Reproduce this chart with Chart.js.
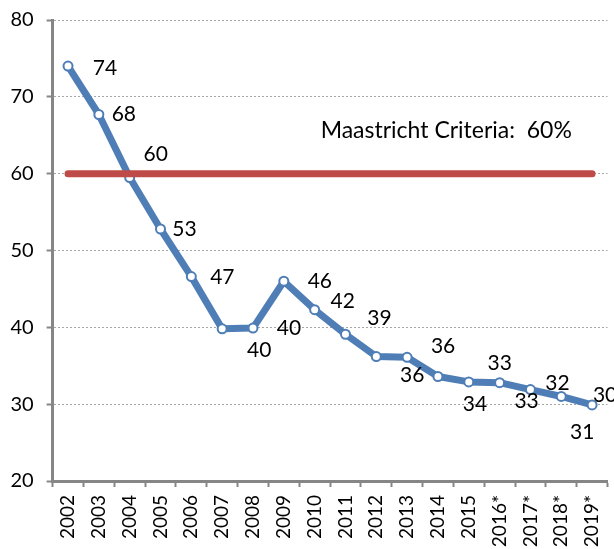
<!DOCTYPE html>
<html>
<head>
<meta charset="utf-8">
<script src="https://cdn.jsdelivr.net/npm/chart.js@4/dist/chart.umd.min.js"></script>
<style>
  html, body { margin: 0; padding: 0; background: #fff; }
  #wrap { width: 614px; height: 549px; }
</style>
</head>
<body>
<div id="wrap"><canvas id="debtChart" width="614" height="549"></canvas></div>
<script>
const years = ['2002', '2003', '2004', '2005', '2006', '2007', '2008', '2009', '2010',
  '2011', '2012', '2013', '2014', '2015', '2016*', '2017*', '2018*', '2019*'];
const debtRatio = [74.0, 67.7, 59.5, 52.8, 46.6, 39.8, 39.9, 46.0, 42.3,
  39.1, 36.2, 36.1, 33.6, 32.9, 32.8, 31.9, 31.0, 29.9];
const criteria = years.map(() => 60);
const yTicks = [20, 30, 40, 50, 60, 70, 80];
const criteriaText = 'Maastricht Criteria:  60%';

// where each value label sits, relative to its point (hand placed, like the original)
const labelOffsets = [
  [37, 2], [25, 0], [26, -23], [24, 0], [31, 1], [37, 21], [36, 0], [36, 0], [28, -8],
  [34, -16], [36, 19], [36, -11], [37, 28], [31, -19], [27, 19], [27, -6], [21, 36], [13, -10]
];

const FONT = 'Lato, "Open Sans", sans-serif';

const valueLabels = {
  id: 'valueLabels',
  afterDatasetsDraw(chart) {
    const ctx = chart.ctx;
    const meta = chart.getDatasetMeta(1);
    ctx.save();
    ctx.font = '21px ' + FONT;
    ctx.fillStyle = '#000';
    ctx.textAlign = 'center';
    ctx.textBaseline = 'middle';
    meta.data.forEach((pt, i) => {
      const off = labelOffsets[i];
      ctx.fillText(String(Math.round(debtRatio[i])), pt.x + off[0], pt.y + off[1]);
    });

    // criteria note above the red line
    const xs = chart.scales.x;
    const ys = chart.scales.y;
    ctx.font = '23px ' + FONT;
    ctx.textAlign = 'left';
    ctx.fillText(criteriaText, xs.getPixelForValue(8) + 6, ys.getPixelForValue(60) - 43);
    ctx.restore();
  }
};

const ctx = document.getElementById('debtChart').getContext('2d');
const debtChart = new Chart(ctx, {
  type: 'line',
  data: {
    labels: years,
    datasets: [{
      label: 'Maastricht',
      data: criteria,
      borderColor: '#BE4B48',
      borderWidth: 7,
      borderCapStyle: 'round',
      pointRadius: 0,
      order: 0
    }, {
      label: 'Debt',
      data: debtRatio,
      borderColor: '#4F7EB7',
      borderWidth: 7,
      borderJoinStyle: 'round',
      pointRadius: 4.5,
      pointBorderWidth: 2,
      pointBackgroundColor: '#fff',
      pointBorderColor: '#4F7EB7',
      tension: 0,
      order: 1
    }]
  },
  options: {
    responsive: false,
    animation: false,
    layout: { padding: { left: 0, right: 6, top: 20, bottom: 0 } },
    plugins: {
      legend: { display: false },
      tooltip: { enabled: false }
    },
    scales: {
      x: {
        offset: true,
        grid: {
          offset: true,
          drawOnChartArea: false,
          tickLength: 6,
          tickColor: '#868686',
          tickWidth: 2
        },
        border: { color: '#868686', width: 3 },
        ticks: {
          minRotation: 90,
          maxRotation: 90,
          padding: 8,
          color: '#000',
          font: { family: FONT, size: 19 }
        },
        afterFit(scale) {
          scale.height = 68;
          scale.paddingLeft = 0;
          scale.paddingRight = 0;
        }
      },
      y: {
        min: 20,
        max: 80,
        afterBuildTicks(scale) { scale.ticks = yTicks.map(v => ({ value: v })); },
        grid: {
          color: '#A6A6A6',
          lineWidth: 1,
          tickLength: 6,
          tickColor: '#868686',
          tickWidth: 2
        },
        border: { color: '#868686', width: 3, dash: [2, 2] },
        ticks: {
          padding: 13,
          color: '#000',
          font: { family: FONT, size: 20 }
        },
        afterFit(scale) {
          scale.width = 52.6;
          scale.paddingTop = 0;
          scale.paddingBottom = 0;
        }
      }
    }
  },
  plugins: [valueLabels]
});
</script>
</body>
</html>
